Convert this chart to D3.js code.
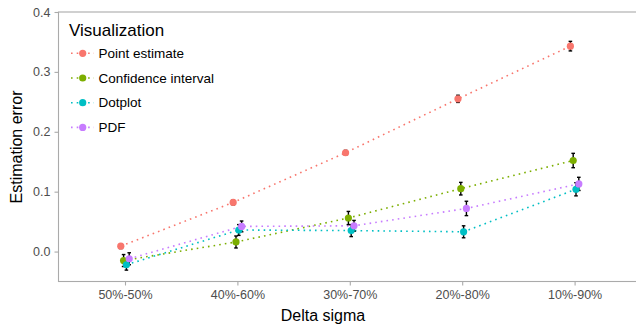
<!DOCTYPE html>
<html><head><meta charset="utf-8">
<script src="https://cdn.jsdelivr.net/npm/d3@7"></script>
<style>body{margin:0;background:#fff}svg{display:block;font-family:"Liberation Sans",Arial,sans-serif}</style>
</head><body><svg id="c" width="636" height="327"></svg>
<script>
const categories = ["50%-50%","40%-60%","30%-70%","20%-80%","10%-90%"];
const seriesNames = ["Point estimate","Confidence interval","Dotplot","PDF"];
const colors = ["#F8766D","#7CAE00","#00BFC4","#C77CFF"];
const pointEstimate = [0.009, 0.082, 0.165, 0.255, 0.343];
const confidenceInterval = [-0.015, 0.016, 0.056, 0.105, 0.152];
const dotplot = [-0.022, 0.036, 0.035, 0.033, 0.104];
const pdf = [-0.012, 0.042, 0.043, 0.072, 0.113];
const errPoint = [0.004, 0.004, 0.004, 0.006, 0.008];
const errCI = [0.010, 0.010, 0.011, 0.0105, 0.012];
const errDot = [0.009, 0.009, 0.010, 0.010, 0.011];
const errPDF = [0.010, 0.009, 0.009, 0.012, 0.011];
const yTicks = [0.0, 0.1, 0.2, 0.3, 0.4];

const values = [pointEstimate, confidenceInterval, dotplot, pdf];
const errs = [errPoint, errCI, errDot, errPDF];

const svg = d3.select("#c");
const L = 58.5, T = 12, B = 281.5, R = 700;
const x = d3.scalePoint().domain(categories).range([125, 574.6]);
const y = d3.scaleLinear().domain([-0.05, 0.4]).range([B, T]);
const step = x.step();
const dodge = 0.1;
const off = i => (i - 1.5) * dodge / 4 * step;

const g = svg.append("g");
g.append("rect").attr("x", L).attr("y", T).attr("width", R - L).attr("height", B - T)
  .attr("fill", "none").attr("stroke", "#aaaaaa").attr("stroke-width", 1.1);

const yAxis = d3.axisLeft(y).tickValues(yTicks).tickFormat(d3.format(".1f")).tickSize(4).tickPadding(4);
const ya = g.append("g").attr("transform", `translate(${L},0)`).call(yAxis);
const xAxis = d3.axisBottom(x).tickSize(4).tickPadding(5);
const xa = g.append("g").attr("transform", `translate(0,${B})`).call(xAxis);
[ya, xa].forEach(a => {
  a.select(".domain").remove();
  a.selectAll(".tick line").attr("stroke", "#aaaaaa").attr("stroke-width", 1.1);
  a.selectAll(".tick text").attr("fill", "#4d4d4d").attr("font-size", 12.5).attr("font-family", "Liberation Sans, Arial, sans-serif");
});

g.append("text").attr("x", 323).attr("y", 321).attr("text-anchor", "middle")
  .attr("font-size", 16).attr("fill", "#000").text("Delta sigma");
g.append("text").attr("transform", "translate(22,147) rotate(-90)").attr("text-anchor", "middle")
  .attr("font-size", 16).attr("fill", "#000").text("Estimation error");

const line = d3.line().x(d => d[0]).y(d => d[1]);
values.forEach((vals, s) => {
  const pts = vals.map((v, i) => [x(categories[i]) + off(s), y(v)]);
  g.append("path").attr("d", line(pts)).attr("fill", "none").attr("stroke", colors[s])
    .attr("stroke-width", 1.6).attr("stroke-dasharray", "1.6 4.1");
});
values.forEach((vals, s) => {
  vals.forEach((v, i) => {
    const cx = x(categories[i]) + off(s);
    const e = errs[s][i];
    const eg = g.append("g").attr("stroke", "#000").attr("stroke-width", 1.4);
    eg.append("line").attr("x1", cx).attr("x2", cx).attr("y1", y(v - e)).attr("y2", y(v + e));
    eg.append("line").attr("x1", cx - 1.8).attr("x2", cx + 1.8).attr("y1", y(v - e)).attr("y2", y(v - e));
    eg.append("line").attr("x1", cx - 1.8).attr("x2", cx + 1.8).attr("y1", y(v + e)).attr("y2", y(v + e));
  });
});
values.forEach((vals, s) => {
  g.append("g").selectAll("circle").data(vals).join("circle")
    .attr("cx", (v, i) => x(categories[i]) + off(s)).attr("cy", v => y(v))
    .attr("r", 3.6).attr("fill", colors[s]);
});

const lg = svg.append("g");
lg.append("text").attr("x", 69).attr("y", 36).attr("font-size", 17).attr("fill", "#000").text("Visualization");
seriesNames.forEach((n, s) => {
  const cy = 53.3 + s * 24.7;
  lg.append("line").attr("x1", 71).attr("x2", 94).attr("y1", cy).attr("y2", cy)
    .attr("stroke", colors[s]).attr("stroke-width", 1.6).attr("stroke-dasharray", "1.6 4.1");
  lg.append("circle").attr("cx", 82.7).attr("cy", cy).attr("r", 3.6).attr("fill", colors[s]);
  lg.append("text").attr("x", 98.5).attr("y", cy + 4.7).attr("font-size", 13.5).attr("fill", "#000").text(n);
});
</script></body></html>
